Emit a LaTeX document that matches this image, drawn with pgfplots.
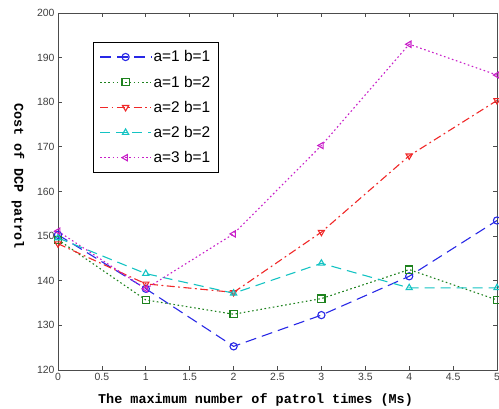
\documentclass[border=0pt]{standalone}
\usepackage{pgfplots}
\pgfplotsset{compat=1.18}
\usepackage{fontspec}
\setmainfont{Liberation Sans}
\newfontfamily\labelfont{Liberation Mono}
\definecolor{mblue}{RGB}{40,40,230}
\definecolor{mgreen}{RGB}{30,130,30}
\definecolor{mred}{RGB}{240,40,40}
\definecolor{mcyan}{RGB}{20,195,195}
\definecolor{mmagenta}{RGB}{200,30,200}
\begin{document}
\begin{tikzpicture}
\path[use as bounding box] (-58bp,-39bp) rectangle (441bp,370bp);
\begin{axis}[
  at={(0,0)}, anchor=south west,
  scale only axis, width=439bp, height=357bp,
  xmin=0, xmax=5, ymin=120, ymax=200,
  xtick={0,0.5,...,5}, ytick={120,130,...,200},
  xticklabels={0,0.5,1,1.5,2,2.5,3,3.5,4,4.5,5},
  tick align=inside, major tick length=4bp,
  axis line style={draw=black!70, line width=0.9pt},
  every tick/.style={black!70, line width=0.8pt},
  tick label style={font=\fontsize{10.5}{12}\selectfont, text=black!75},
  /pgf/number format/assume math mode=true,
  xlabel={\labelfont\bfseries The maximum number of patrol times (Ms)},
  ylabel={\labelfont\bfseries Cost of DCP patrol},
  xlabel style={font=\fontsize{13.5}{15}\selectfont, at={(axis description cs:0.45,-0.084)}, anchor=center},
  ylabel style={font=\fontsize{13.5}{15}\selectfont, rotate=180, at={(axis description cs:-0.091,0.543)}, anchor=center},
  legend style={at={(0.08,0.918)}, anchor=north west, draw=black, line width=0.8pt,
    font=\fontsize{15.5}{17}\selectfont, row sep=8.5bp, inner sep=6bp},
  legend cell align=left,
  legend image code/.code={
    \draw[mark repeat=2,mark phase=2] plot coordinates {(0cm,0cm) (0.9cm,0cm) (1.8cm,0cm)};
  },
  every axis plot/.append style={line width=1.1pt, mark size=3.6bp, mark options={solid, fill=none}},
]
\addplot[mblue, dash pattern=on 11bp off 6bp, mark=o] coordinates {
  (0,150.3) (1,138.2) (2,125.3) (3,132.3) (4,141.0) (5,153.5)};
\addlegendentry{a=1 b=1}
\addplot[mgreen, dash pattern=on 1.6bp off 2.6bp, mark=square] coordinates {
  (0,149.2) (1,135.7) (2,132.5) (3,136.0) (4,142.5) (5,135.7)};
\addlegendentry{a=1 b=2}
\addplot[mred, dash pattern=on 8bp off 3.5bp on 1.8bp off 3.5bp, mark=triangle, mark options={solid, rotate=180}] coordinates {
  (0,148.3) (1,139.3) (2,137.4) (3,150.9) (4,168.0) (5,180.4)};
\addlegendentry{a=2 b=1}
\addplot[mcyan, dash pattern=on 10bp off 6bp, mark=triangle] coordinates {
  (0,149.6) (1,141.6) (2,137.2) (3,143.9) (4,138.4) (5,138.4)};
\addlegendentry{a=2 b=2}
\addplot[mmagenta, dash pattern=on 1.6bp off 2.6bp, mark=triangle, mark options={solid, rotate=90}] coordinates {
  (0,151.1) (1,138.2) (2,150.5) (3,170.3) (4,193.0) (5,186.1)};
\addlegendentry{a=3 b=1}
\end{axis}
\end{tikzpicture}
\end{document}
